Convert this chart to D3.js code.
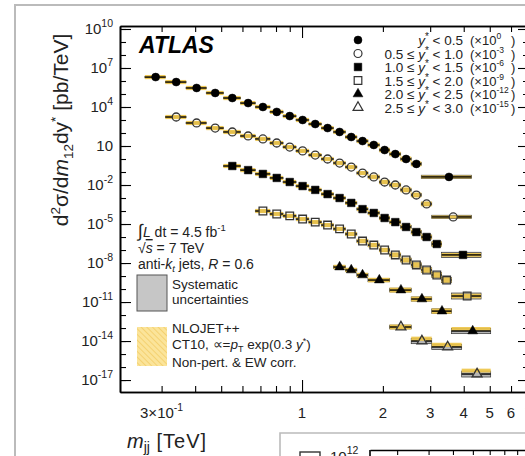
<!DOCTYPE html>
<html>
<head>
<meta charset="utf-8">
<script src="https://cdn.jsdelivr.net/npm/d3@7"></script>
<style>
  body { margin: 0; background: #fff; }
  svg { display: block; font-family: "Liberation Sans", Arial, sans-serif; }
</style>
</head>
<body>
<svg id="chart" width="525" height="456"></svg>
<script>
// bin edges [TeV] for each rapidity slice (last bin is the wide one)
const edges1 = [0.26,0.31,0.37,0.44,0.51,0.59,0.67,0.76,0.85,0.95,1.06,1.18,1.31,1.45,1.6,1.76,1.94,2.12,2.33,2.55,2.78,4.27];
const edges2 = [0.31,0.37,0.44,0.51,0.59,0.67,0.76,0.85,0.95,1.06,1.18,1.31,1.45,1.6,1.76,1.94,2.12,2.33,2.55,2.78,3.04,4.27];
const edges3 = [0.51,0.59,0.67,0.76,0.85,0.95,1.06,1.18,1.31,1.45,1.6,1.76,1.94,2.12,2.33,2.55,2.78,3.04,3.31,4.64];
const edges4 = [0.67,0.76,0.85,0.95,1.06,1.18,1.31,1.45,1.6,1.76,1.94,2.12,2.33,2.55,2.78,3.04,3.31,3.6,4.64];
const edges5 = [1.31,1.45,1.6,1.76,2.12,2.55,3.04,3.6,5.04];
const edges6 = [2.12,2.55,3.04,3.93,5.04];

// measured cross sections [pb/TeV], before the display scale factor
const xs1 = [2.0e6,8.3e5,2.9e5,1.2e5,4.9e4,2.0e4,1.0e4,4.2e3,2.0e3,1.0e3,4.9e2,2.4e2,1.2e2,49,24,12,4.9,2.4,1.0,0.42,0.042];
const xs2 = [1.7e6,5.9e5,2.4e5,1.2e5,5.9e4,3.5e4,1.7e4,8.3e3,4.2e3,2.0e3,1.0e3,4.9e2,2.4e2,83,42,17,10,4.2,1.7,0.35,0.035];
const xs3 = [2.9e5,1.4e5,7.1e4,3.5e4,1.7e4,8.3e3,4.2e3,2.0e3,1.0e3,4.2e2,1.4e2,71,29,14,5.9,2.4,1.0,0.29,0.042];
const xs4 = [1.0e5,5.9e4,4.2e4,2.4e4,1.4e4,8.3e3,4.2e3,1.7e3,4.9e2,2.4e2,1.0e2,42,17,7.1,2.9,1.2,0.49,0.029];
const xs5 = [4.9e3,2.9e3,1.2e3,4.9e2,83,17,2.0,0.059];
const xs6 = [1.2e2,10,3.5,0.029];

// systematic uncertainty [%]
const sys1 = [15,15,15,15,15,15,15,15,15,15,15,15,18,18,20,20,22,25,25,30,35];
const sys2 = [15,15,15,15,15,15,15,15,15,15,15,18,18,20,20,22,25,25,30,35,35];
const sys3 = [15,15,15,15,15,15,15,18,18,20,20,22,25,25,30,35,40,45,60];
const sys4 = [18,18,18,18,18,20,20,22,25,25,30,35,40,45,50,55,60,70];
const sys5 = [25,25,30,35,40,45,50,60];
const sys6 = [40,60,60,70];

// theory (NLOJET++ CT10) uncertainty [%] and theory/data ratio
const th1 = [45,45,45,45,45,45,45,45,45,45,45,45,45,45,45,50,50,50,55,55,30];
const th2 = [45,45,45,45,45,45,45,45,45,45,45,45,45,45,50,50,50,55,55,55,30];
const th3 = [45,45,45,45,45,45,45,45,45,45,45,50,50,50,55,55,55,60,40];
const th4 = [45,45,45,45,45,45,45,45,50,50,50,55,55,60,60,60,60,50];
const th5 = [50,50,50,50,55,55,60,40];
const th6 = [55,45,45,40];
const ratio5 = [1,1,1,1,1,1,1,1.45];
const ratio6 = [1,1.5,1.45,1.85];

const scales = [1, 1e-3, 1e-6, 1e-9, 1e-12, 1e-15];
const scaleExp = ["0", "-3", "-6", "-9", "-12", "-15"];
const sliceLabels = [["", "0.5"], ["0.5", "1.0"], ["1.0", "1.5"], ["1.5", "2.0"], ["2.0", "2.5"], ["2.5", "3.0"]];

const xTickLabels = [0.3, 1, 2, 3, 4, 5, 6, 7];
const yLabelExp = [-17, -14, -11, -8, -5, -2, 1, 4, 7, 10];

const series = [
  { edges: edges1, xs: xs1, sys: sys1, th: th1, ratio: null, shape: d3.symbolCircle, filled: true },
  { edges: edges2, xs: xs2, sys: sys2, th: th2, ratio: null, shape: d3.symbolCircle, filled: false },
  { edges: edges3, xs: xs3, sys: sys3, th: th3, ratio: null, shape: d3.symbolSquare, filled: true },
  { edges: edges4, xs: xs4, sys: sys4, th: th4, ratio: null, shape: d3.symbolSquare, filled: false },
  { edges: edges5, xs: xs5, sys: sys5, th: th5, ratio: ratio5, shape: d3.symbolTriangle, filled: true },
  { edges: edges6, xs: xs6, sys: sys6, th: th6, ratio: ratio6, shape: d3.symbolTriangle, filled: false }
];

const svg = d3.select("#chart");
const gold = "#eec54a";

// frame of the whole figure
svg.append("path").attr("d", "M15,456V5H525")
   .attr("fill", "none").attr("stroke", "#bbbbbb").attr("stroke-width", 2);

// scales
const x = d3.scaleLog().domain([0.21, 7]).range([120, 529]);
const y = d3.scaleLog().domain([Math.pow(10, -17.92), Math.pow(10, 10.23)]).range([392, 26]);

function markSize(shape) {
  return shape === d3.symbolCircle ? 50 : (shape === d3.symbolSquare ? 58 : 42);
}

// points
series.forEach((s, k) => {
  const pts = s.xs.map((v, i) => ({
    lo: s.edges[i], hi: s.edges[i + 1],
    c: (s.edges[i] + s.edges[i + 1]) / 2,
    v: v * scales[k],
    sys: s.sys[i] / 100,
    th: s.th[i] / 100,
    r: s.ratio ? s.ratio[i] : 1
  }));
  const g = svg.append("g");

  g.selectAll(".sys").data(pts).enter().append("rect")
    .attr("x", d => x(d.lo)).attr("width", d => x(d.hi) - x(d.lo))
    .attr("y", d => y(d.v * (1 + d.sys)))
    .attr("height", d => y(d.v / (1 + d.sys)) - y(d.v * (1 + d.sys)))
    .attr("fill", "#b5b5b5").attr("stroke", "#333").attr("stroke-width", 0.7);

  g.selectAll(".th").data(pts).enter().append("rect")
    .attr("x", d => x(d.lo)).attr("width", d => x(d.hi) - x(d.lo))
    .attr("y", d => y(d.v * d.r * (1 + d.th)))
    .attr("height", d => y(d.v * d.r / (1 + d.th)) - y(d.v * d.r * (1 + d.th)))
    .attr("fill", gold).attr("opacity", 0.92);

  const gap = s.filled ? 0 : 4;
  g.selectAll(".errl").data(pts).enter().append("line")
    .attr("x1", d => x(d.lo)).attr("x2", d => x(d.c) - gap)
    .attr("y1", d => y(d.v)).attr("y2", d => y(d.v))
    .attr("stroke", "#000").attr("stroke-width", 1.4);
  g.selectAll(".errr").data(pts).enter().append("line")
    .attr("x1", d => x(d.c) + gap).attr("x2", d => x(d.hi))
    .attr("y1", d => y(d.v)).attr("y2", d => y(d.v))
    .attr("stroke", "#000").attr("stroke-width", 1.4);

  g.selectAll(".mk").data(pts).enter().append("path")
    .attr("d", d3.symbol().type(s.shape).size(markSize(s.shape)))
    .attr("transform", d => `translate(${x(d.c)},${y(d.v)})`)
    .attr("fill", s.filled ? "#000" : "none")
    .attr("stroke", s.filled ? "#000" : "#333")
    .attr("stroke-width", s.filled ? 0.5 : 1.3);
});

// axes
const xMinor = [0.3,0.4,0.5,0.6,0.7,0.8,0.9,2,3,4,5,6,7];
const yDecades = d3.range(-17, 11).map(e => Math.pow(10, e));
const yMajor = yLabelExp.map(e => Math.pow(10, e));

function drawAxis(axis, tx, ty) {
  const g = svg.append("g").attr("transform", `translate(${tx},${ty})`).call(axis);
  g.select(".domain").attr("stroke", "#000").attr("stroke-width", 1.6);
  g.selectAll(".tick line").attr("stroke", "#000").attr("stroke-width", 1.1);
  g.selectAll(".tick text").remove();
  return g;
}
drawAxis(d3.axisBottom(x).tickValues(xMinor).tickSizeInner(-6).tickSizeOuter(0), 0, 392);
drawAxis(d3.axisBottom(x).tickValues([1]).tickSizeInner(-12).tickSizeOuter(0), 0, 392);
drawAxis(d3.axisTop(x).tickValues(xMinor).tickSizeInner(-6).tickSizeOuter(0), 0, 26);
drawAxis(d3.axisTop(x).tickValues([1]).tickSizeInner(-12).tickSizeOuter(0), 0, 26);
drawAxis(d3.axisLeft(y).tickValues(yDecades).tickSizeInner(-6).tickSizeOuter(0), 120, 0);
drawAxis(d3.axisLeft(y).tickValues(yMajor).tickSizeInner(-11).tickSizeOuter(0), 120, 0);
drawAxis(d3.axisRight(y).tickValues(yDecades).tickSizeInner(-6).tickSizeOuter(0), 529, 0);
drawAxis(d3.axisRight(y).tickValues(yMajor).tickSizeInner(-11).tickSizeOuter(0), 529, 0);

// tick labels
const yl = svg.selectAll(".ylab").data(yLabelExp).enter().append("text")
  .attr("x", 113).attr("y", e => y(Math.pow(10, e)) + 5)
  .attr("text-anchor", "end").attr("font-size", 15).attr("fill", "#222");
yl.append("tspan").text("10");
yl.filter(e => e !== 1).append("tspan").attr("dy", -7).attr("font-size", 10.5).text(e => e);

const xl = svg.selectAll(".xlab").data(xTickLabels).enter().append("text")
  .attr("x", d => x(d)).attr("y", 418)
  .attr("text-anchor", "middle").attr("font-size", 15).attr("fill", "#222");
xl.append("tspan").text(d => d === 0.3 ? "3\u00d710" : d);
xl.filter(d => d === 0.3).append("tspan").attr("dy", -7).attr("font-size", 10.5).text("-1");

// axis titles
const yt = svg.append("text").attr("transform", "translate(68,130) rotate(-90)")
  .attr("text-anchor", "middle").attr("font-size", 21).attr("fill", "#222");
yt.append("tspan").text("d");
yt.append("tspan").attr("dy", -8).attr("font-size", 13.5).text("2");
yt.append("tspan").attr("dy", 8).text("\u03c3/d");
yt.append("tspan").attr("font-style", "italic").text("m");
yt.append("tspan").attr("dy", 5).attr("font-size", 13.5).text("12");
yt.append("tspan").attr("dy", -5).text("dy");
yt.append("tspan").attr("dy", -8).attr("font-size", 13.5).text("*");
yt.append("tspan").attr("dy", 8).text(" [pb/TeV]");

const xt = svg.append("text").attr("x", 127).attr("y", 448).attr("font-size", 20).attr("fill", "#222");
xt.append("tspan").attr("font-style", "italic").text("m");
xt.append("tspan").attr("dy", 4).attr("font-size", 14).text("jj");
xt.append("tspan").attr("dy", -4).attr("letter-spacing", 1).text(" [TeV]");

// ATLAS label
svg.append("text").attr("x", 139).attr("y", 53).attr("font-size", 23)
   .attr("font-weight", "bold").attr("font-style", "italic").text("ATLAS");

// legend of rapidity slices
const legY = [40, 53.5, 67, 80.5, 94, 107.5];
series.forEach((s, k) => {
  const cy = legY[k];
  svg.append("path").attr("d", d3.symbol().type(s.shape).size(markSize(s.shape)))
    .attr("transform", `translate(358,${cy})`)
    .attr("fill", s.filled ? "#000" : "none").attr("stroke", s.filled ? "#000" : "#333")
    .attr("stroke-width", s.filled ? 0.5 : 1.2);
  const t = svg.append("text").attr("x", 463).attr("y", cy + 5).attr("text-anchor", "end")
    .attr("font-size", 13.5).attr("fill", "#222");
  if (sliceLabels[k][0]) t.append("tspan").text(sliceLabels[k][0] + " \u2264 ");
  t.append("tspan").attr("font-style", "italic").text("y");
  t.append("tspan").attr("dy", -5).attr("font-size", 10).text("*");
  t.append("tspan").attr("dy", 5).text(" < " + sliceLabels[k][1]);
  const f = svg.append("text").attr("x", 470).attr("y", cy + 5).attr("font-size", 13).attr("fill", "#222");
  f.append("tspan").text("(\u00d710");
  f.append("tspan").attr("dy", -6).attr("font-size", 8.5).text(scaleExp[k]);
  svg.append("text").attr("x", 511).attr("y", cy + 5).attr("font-size", 13).attr("fill", "#222").text(")");
});

// annotations
const a1 = svg.append("text").attr("x", 138).attr("y", 237).attr("font-size", 14).attr("fill", "#222");
a1.append("tspan").attr("font-size", 18).text("\u222b");
a1.append("tspan").attr("font-style", "italic").text("L");
a1.append("tspan").text(" dt = 4.5 fb");
a1.append("tspan").attr("dy", -6).attr("font-size", 9.5).text("-1");

const a2 = svg.append("text").attr("x", 138).attr("y", 253).attr("font-size", 14).attr("fill", "#222");
a2.append("tspan").text("\u221a");
a2.append("tspan").attr("font-style", "italic").attr("text-decoration", "overline").text("s");
a2.append("tspan").text(" = 7 TeV");

const a3 = svg.append("text").attr("x", 138).attr("y", 269).attr("font-size", 14).attr("fill", "#222");
a3.append("tspan").text("anti-");
a3.append("tspan").attr("font-style", "italic").text("k");
a3.append("tspan").attr("dy", 3).attr("font-size", 9.5).attr("font-style", "italic").text("t");
a3.append("tspan").attr("dy", -3).text("  jets, ");
a3.append("tspan").attr("font-style", "italic").text("R");
a3.append("tspan").text(" = 0.6");

// legend boxes
const defs = svg.append("defs");
const pat = defs.append("pattern").attr("id", "hatch").attr("width", 4).attr("height", 4)
  .attr("patternUnits", "userSpaceOnUse").attr("patternTransform", "rotate(-45)");
pat.append("rect").attr("width", 4).attr("height", 4).attr("fill", "#fbe49a");
pat.append("line").attr("x1", 0).attr("y1", 0).attr("x2", 0).attr("y2", 4)
  .attr("stroke", "#f1c75a").attr("stroke-width", 1.3);

svg.append("rect").attr("x", 137).attr("y", 275).attr("width", 30).attr("height", 36)
  .attr("fill", "#c6c6c6").attr("stroke", "#555").attr("stroke-width", 1);
svg.append("rect").attr("x", 137).attr("y", 327).attr("width", 30).attr("height", 39)
  .attr("fill", "url(#hatch)");

const legText = [["Systematic", 289], ["uncertainties", 304], ["NLOJET++", 333], ["Non-pert. & EW corr.", 367]];
legText.forEach(d => svg.append("text").attr("x", 172).attr("y", d[1]).attr("font-size", 13.5)
  .attr("fill", "#222").text(d[0]));
const ct = svg.append("text").attr("x", 172).attr("y", 349).attr("font-size", 13.5).attr("fill", "#222");
ct.append("tspan").text("CT10, \u221d=");
ct.append("tspan").attr("font-style", "italic").text("p");
ct.append("tspan").attr("dy", 3).attr("font-size", 9).text("T");
ct.append("tspan").attr("dy", -3).text(" exp(0.3 ");
ct.append("tspan").attr("font-style", "italic").text("y");
ct.append("tspan").attr("dy", -5).attr("font-size", 9).text("*");
ct.append("tspan").attr("dy", 5).text(")");

// edge of the next panel below
svg.append("path").attr("d", "M280,460V433H530").attr("fill", "none")
   .attr("stroke", "#bbbbbb").attr("stroke-width", 1.6);
svg.append("rect").attr("x", 300).attr("y", 452).attr("width", 20).attr("height", 12)
   .attr("fill", "none").attr("stroke", "#333").attr("stroke-width", 1.4);
const it = svg.append("text").attr("x", 330).attr("y", 462).attr("font-size", 15).attr("fill", "#222");
it.append("tspan").text("10");
it.append("tspan").attr("dy", -8).attr("font-size", 10.5).text("12");
const xi = d3.scaleLog().domain([0.234, 1.05]).range([370, 534]);
drawAxis(d3.axisTop(xi).tickValues([0.3,0.4,0.5,0.6,0.7,0.8,0.9]).tickSizeInner(-5).tickSizeOuter(0), 0, 450);
svg.append("line").attr("x1", 370).attr("x2", 370).attr("y1", 450).attr("y2", 456)
   .attr("stroke", "#000").attr("stroke-width", 1.6);
</script>
</body>
</html>
